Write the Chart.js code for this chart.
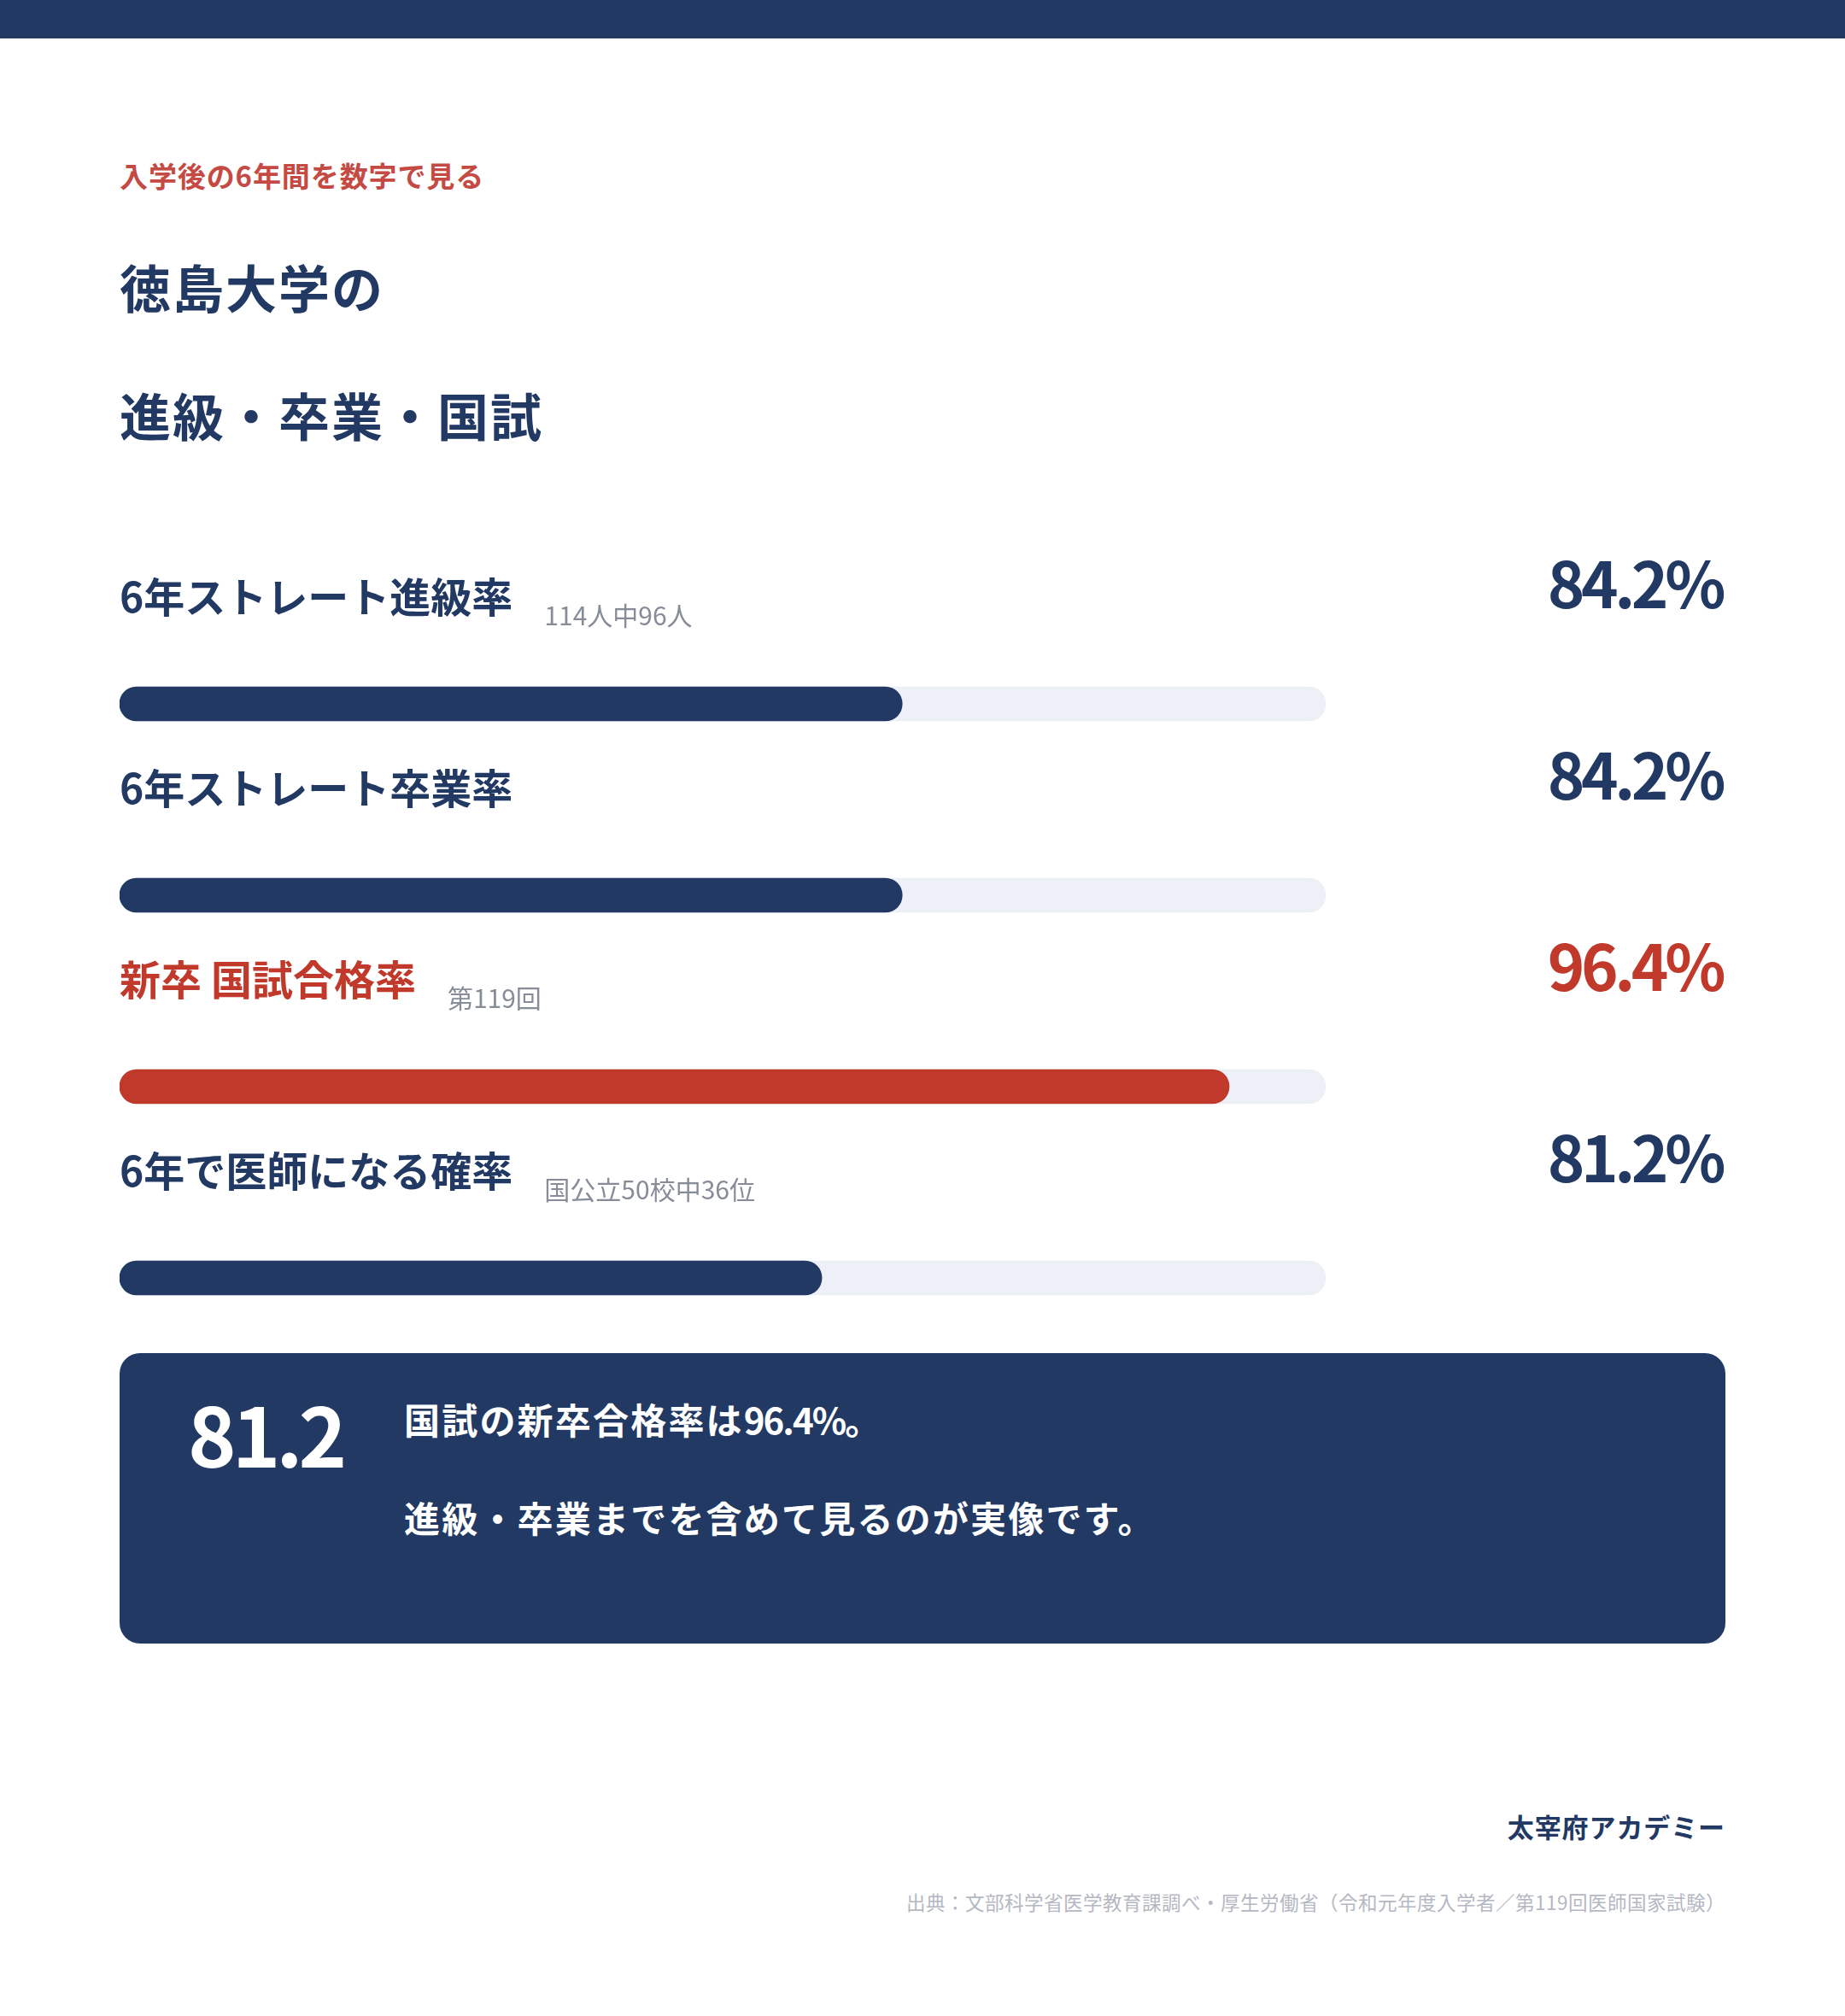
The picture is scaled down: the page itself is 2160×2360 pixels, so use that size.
<!DOCTYPE html>
<html lang="ja">
<head>
<meta charset="utf-8">
<title>徳島大学の進級・卒業・国試</title>
<script src="https://cdn.jsdelivr.net/npm/chart.js@4.4.1/dist/chart.umd.min.js"></script>
<style>
  html, body { margin: 0; padding: 0; background: #fff; }
  body { width: 2160px; height: 2360px; position: relative; overflow: hidden;
         font-family: "Noto Sans CJK JP", "Noto Sans CJK SC", sans-serif; color: #213963; }
  .abs { position: absolute; line-height: 1; white-space: nowrap; }
  #topbar { position: absolute; left: 0; top: 0; width: 2160px; height: 45px; background: #213963; }
  #eyebrow { left: 140px; top: 189px; font-size: 33px; font-weight: 700; color: #c44a43; letter-spacing: 0.9px; }
  .title { left: 140px; font-size: 60px; font-weight: 700; letter-spacing: 2px; }
  #chart-wrap { position: absolute; left: 140px; top: 712px; width: 1412px; height: 896px; }
  .row { display: flex; align-items: baseline; }
  .row .label { font-size: 48px; font-weight: 700; }
  .row .note { font-size: 30px; font-weight: 400; color: #868c98; margin-left: 37px; position: relative; top: 15px; }
  .value { right: 144px; font-size: 74px; font-weight: 700; letter-spacing: -4.4px; }
  #box { position: absolute; left: 140px; top: 1584px; width: 1880px; height: 340px; background: #213963; border-radius: 24px; }
  #box .big { left: 80px; top: 45px; font-size: 96px; font-weight: 700; color: #fff; letter-spacing: -5px; }
  #box .msg { left: 333px; font-size: 42px; font-weight: 700; color: #fff; letter-spacing: 2.2px; }
  #box .msg .num { letter-spacing: -2px; }
  #brand { right: 140px; top: 2122px; font-size: 31px; font-weight: 700; letter-spacing: 0.9px; }
  #source { right: 140px; top: 2215px; font-size: 22.5px; color: #b4b8c2; letter-spacing: 0.5px; }
</style>
</head>
<body>
<div id="topbar"></div>
<div id="eyebrow" class="abs">入学後の6年間を数字で見る</div>
<div class="abs title" style="top:305px">徳島大学の</div>
<div class="abs title" style="top:455px">進級・卒業・国試</div>

<div id="chart-wrap"><canvas id="rate-chart" width="1412" height="896"></canvas></div>

<div id="box">
  <div class="abs big">81.2</div>
  <div class="abs msg" style="top:56px">国試の新卒合格率は<span class="num">96.4%</span>。</div>
  <div class="abs msg" style="top:171px">進級・卒業までを含めて見るのが実像です。</div>
</div>

<div id="brand" class="abs">太宰府アカデミー</div>
<div id="source" class="abs">出典：文部科学省医学教育課調べ・厚生労働省（令和元年度入学者／第119回医師国家試験）</div>

<script>
// values
const categories = ['6年ストレート進級率', '6年ストレート卒業率', '新卒 国試合格率', '6年で医師になる確率'];
const rates = [84.2, 84.2, 96.4, 81.2];
const notes = ['114人中96人', '', '第119回', '国公立50校中36位'];
const trackValues = [100, 100, 100, 100];
const axisMin = 55;
const axisMax = 100;

const NAVY = '#213963';
const RED = '#c0392b';
const TRACK = '#edf0f7';
const highlight = 2;  // the national exam row is drawn in red

const barColors = categories.map((c, i) => i === highlight ? RED : NAVY);

const chart = new Chart('rate-chart', {
    type: 'bar',
    data: {
        labels: categories,
        datasets: [{
            data: rates,
            backgroundColor: barColors,
            base: axisMin,
            order: 0
        }, {
            data: trackValues,
            backgroundColor: TRACK,
            base: axisMin,
            order: 1
        }]
    },
    options: {
        indexAxis: 'y',
        responsive: false,
        animation: false,
        layout: { padding: 0 },
        datasets: {
            bar: {
                grouped: false,
                barThickness: 40,
                borderRadius: 20,
                borderSkipped: false
            }
        },
        scales: {
            x: { display: false, min: axisMin, max: axisMax },
            y: { display: false }
        },
        plugins: {
            legend: { display: false },
            tooltip: { enabled: false }
        }
    }
});

// row captions and percentages follow the bar positions from the y scale
const wrapTop = document.getElementById('chart-wrap').offsetTop;
categories.forEach((name, i) => {
    const center = wrapTop + chart.scales.y.getPixelForValue(i);
    const color = i === highlight ? RED : NAVY;

    const row = document.createElement('div');
    row.className = 'abs row';
    row.style.left = '140px';
    row.style.top = (center - 107 - 45) + 'px';
    row.innerHTML = `<span class="label" style="color:${color}">${name}</span>` +
        (notes[i] ? `<span class="note">${notes[i]}</span>` : '');
    document.body.appendChild(row);

    const val = document.createElement('div');
    val.className = 'abs value';
    val.style.top = (center - 112 - 69) + 'px';
    val.style.color = color;
    val.textContent = rates[i].toFixed(1) + '%';
    document.body.appendChild(val);
});
</script>
</body>
</html>
